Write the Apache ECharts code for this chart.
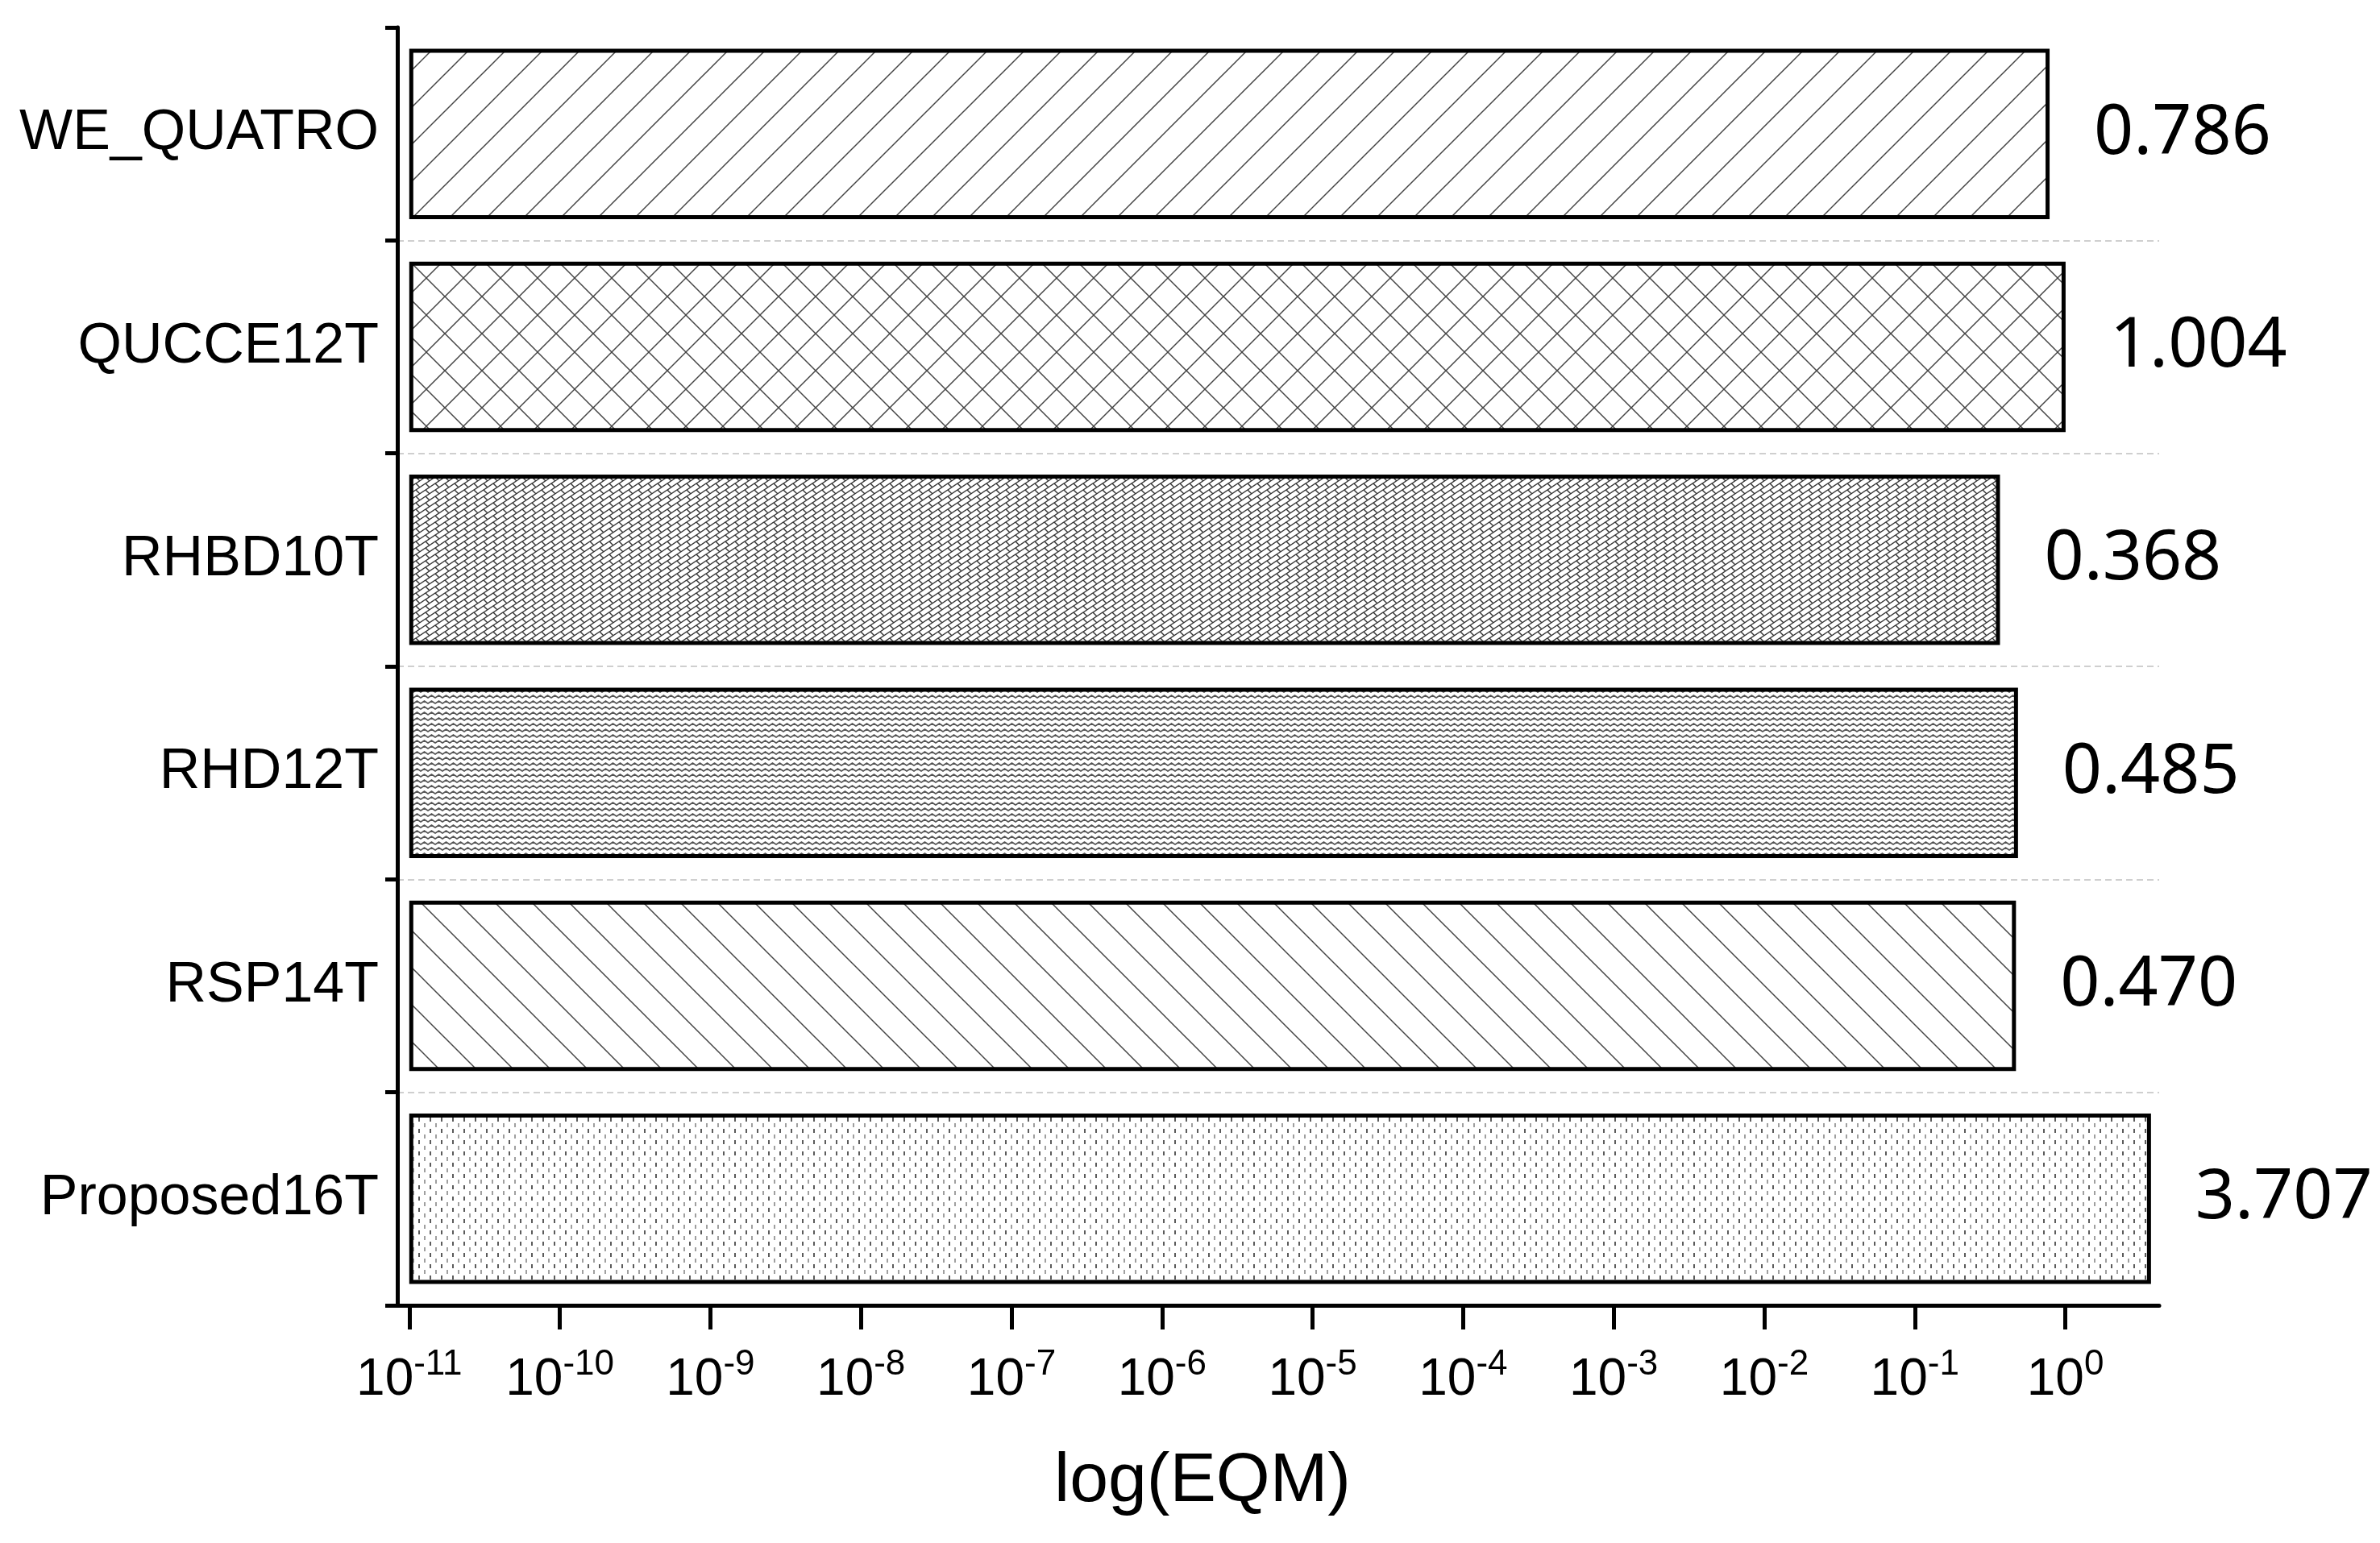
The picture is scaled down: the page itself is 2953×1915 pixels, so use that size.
<!DOCTYPE html>
<html>
<head>
<meta charset="utf-8">
<script src="https://cdn.jsdelivr.net/npm/echarts@6.0.0/dist/echarts.min.js"></script>
<style>
  html, body { margin: 0; padding: 0; background: #fff; }
  #chart { width: 2953px; height: 1915px; }
</style>
</head>
<body>
<div id="chart"></div>
<script>
// 数据
var categories = ['WE_QUATRO', 'QUCCE12T', 'RHBD10T', 'RHD12T', 'RSP14T', 'Proposed16T'];
var eqmValues = [0.786, 1.004, 0.368, 0.485, 0.470, 3.707];
var tickExponents = [-11, -10, -9, -8, -7, -6, -5, -4, -3, -2, -1, 0];
var tickValues = tickExponents.map(function (e) { return Math.pow(10, e); });

// 填充纹理
function makePattern(w, h, draw) {
  var c = document.createElement('canvas');
  c.width = w; c.height = h;
  var ctx = c.getContext('2d');
  ctx.fillStyle = '#fff';
  ctx.fillRect(0, 0, w, h);
  draw(ctx, w, h);
  return { image: c, repeat: 'repeat' };
}
function line(ctx, x1, y1, x2, y2) {
  ctx.beginPath(); ctx.moveTo(x1, y1); ctx.lineTo(x2, y2); ctx.stroke();
}
var slash = makePattern(46, 46, function (ctx, w, h) {
  ctx.strokeStyle = '#444'; ctx.lineWidth = 1.5;
  line(ctx, -4, h + 4, w + 4, -4);
  line(ctx, -4, 4, 4, -4);
  line(ctx, w - 4, h + 4, w + 4, h - 4);
});
var backslash = makePattern(46, 46, function (ctx, w, h) {
  ctx.strokeStyle = '#444'; ctx.lineWidth = 1.5;
  line(ctx, -4, -4, w + 4, h + 4);
  line(ctx, w - 4, -4, w + 4, 4);
  line(ctx, -4, h - 4, 4, h + 4);
});
var cross = makePattern(46, 46, function (ctx, w, h) {
  ctx.strokeStyle = '#444'; ctx.lineWidth = 1.5;
  line(ctx, -4, h + 4, w + 4, -4);
  line(ctx, -4, 4, 4, -4);
  line(ctx, w - 4, h + 4, w + 4, h - 4);
  line(ctx, -4, -4, w + 4, h + 4);
  line(ctx, w - 4, -4, w + 4, 4);
  line(ctx, -4, h - 4, 4, h + 4);
});
var brick = makePattern(12, 8, function (ctx, w, h) {
  ctx.strokeStyle = '#333'; ctx.lineWidth = 1.4;
  line(ctx, -3, 10, 15, -2);
  line(ctx, -3, 2, 3, -2);
  line(ctx, 9, 10, 15, 6);
  line(ctx, 0, 0, 4.8, 4.8);
});
var wave = makePattern(9, 7, function (ctx, w, h) {
  ctx.strokeStyle = '#555'; ctx.lineWidth = 1.8;
  ctx.beginPath();
  ctx.moveTo(-1, 5.6); ctx.lineTo(0, 5); ctx.lineTo(4.5, 2); ctx.lineTo(9, 5); ctx.lineTo(10, 5.6);
  ctx.stroke();
});
var dashes = makePattern(14, 14, function (ctx, w, h) {
  ctx.lineWidth = 1.6;
  ctx.strokeStyle = '#333';
  line(ctx, 2, 1, 2, 6);
  ctx.strokeStyle = '#888';
  line(ctx, 9, 8, 9, 13);
});
var patterns = [slash, cross, brick, wave, backslash, dashes];

var chart = echarts.init(document.getElementById('chart'));
chart.setOption({
  backgroundColor: '#fff',
  animation: false,
  grid: { left: 493, right: 274, top: 34, bottom: 295, containLabel: false },
  xAxis: {
    type: 'log',
    logBase: 10,
    min: 1e-11 / 1.2,
    max: 4.2,
    startValue: 1e-11,
    name: 'log(EQM)',
    nameLocation: 'middle',
    nameGap: 176,
    nameTextStyle: { fontSize: 86, fontFamily: 'Liberation Sans', color: '#000', padding: [0, 188, 0, 0] },
    axisLine: { show: true, lineStyle: { color: '#000', width: 5 } },
    axisTick: { show: true, length: 30, lineStyle: { color: '#000', width: 5 }, customValues: tickValues },
    axisLabel: {
      margin: 52,
      customValues: tickValues,
      formatter: function (v) {
        return '{b|10}{s|' + Math.round(Math.log10(v)) + '}';
      },
      rich: {
        b: { fontSize: 64, fontFamily: 'Liberation Sans', color: '#000', lineHeight: 83 },
        s: { fontSize: 44, fontFamily: 'Liberation Sans', color: '#000', lineHeight: 44, verticalAlign: 'top' }
      }
    },
    splitLine: { show: false }
  },
  yAxis: {
    type: 'category',
    inverse: true,
    data: categories,
    axisLine: { show: true, lineStyle: { color: '#000', width: 5 } },
    axisTick: { show: true, length: 15, lineStyle: { color: '#000', width: 5 } },
    axisLabel: { fontSize: 70, fontFamily: 'Liberation Sans', color: '#000', margin: 23 },
    splitLine: {
      show: true,
      showMinLine: false,
      showMaxLine: false,
      lineStyle: { color: '#cfcfcf', width: 2, type: [8, 5] }
    }
  },
  series: [{
    type: 'bar',
    barCategoryGap: '20%',
    data: eqmValues.map(function (v, i) {
      return { value: v, itemStyle: { color: patterns[i] } };
    }),
    itemStyle: { borderColor: '#000', borderWidth: 5 },
    label: {
      show: true,
      position: 'right',
      distance: 55,
      fontSize: 86,
      fontFamily: 'Noto Sans',
      color: '#000',
      formatter: function (p) { return p.value.toFixed(3); }
    }
  }]
});
</script>
</body>
</html>
